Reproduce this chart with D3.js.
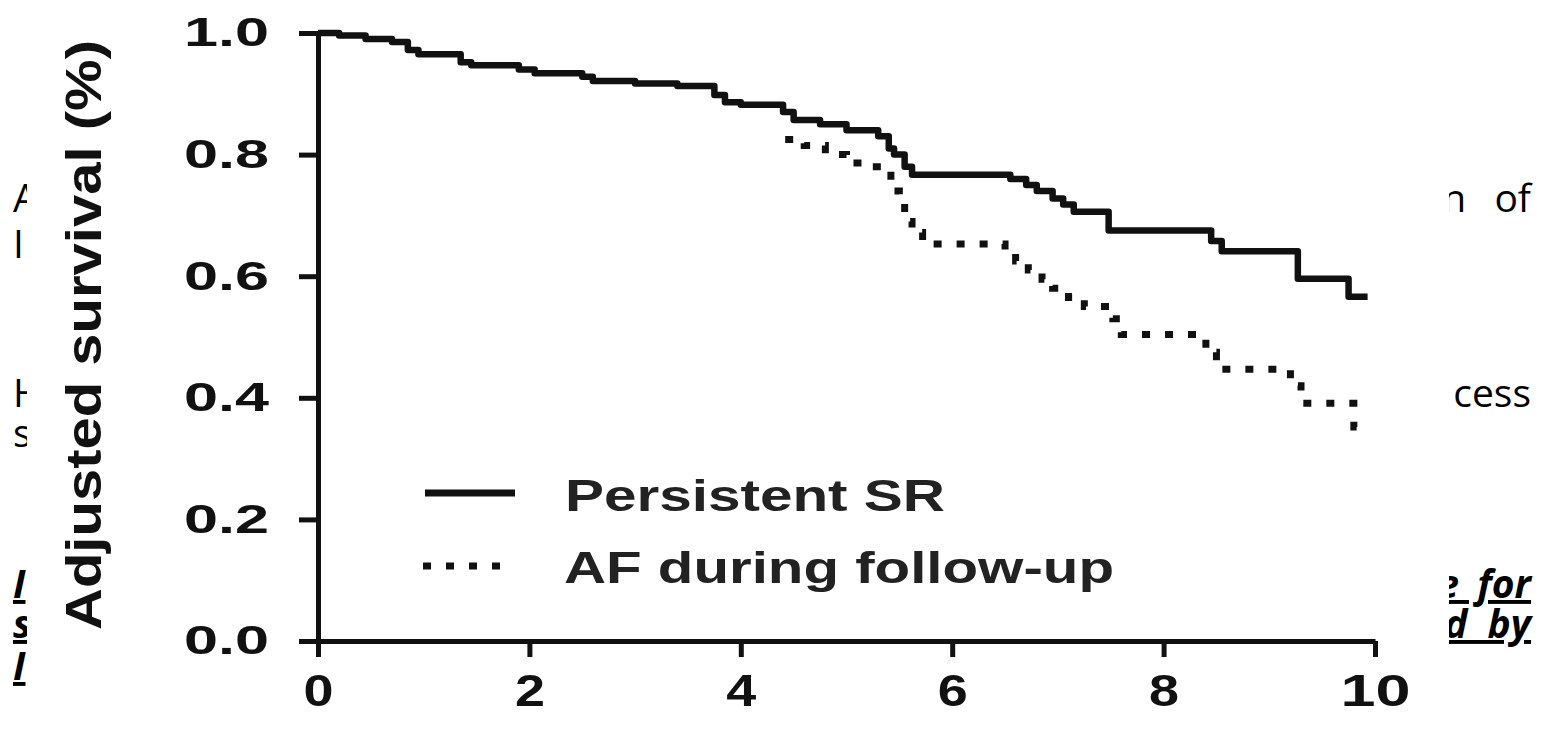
<!DOCTYPE html>
<html><head><meta charset="utf-8">
<script src="https://cdn.jsdelivr.net/npm/d3@7"></script>
<style>html,body{margin:0;padding:0;background:#fff;overflow:hidden}</style>
</head><body><svg id="c" width="1544" height="740"></svg>
<script>
// ---- data ----
const xTicks = [0, 2, 4, 6, 8, 10];
const yTicks = [0, 0.2, 0.4, 0.6, 0.8, 1.0];
const seriesNames = ["Persistent SR", "AF during follow-up"];
const yTitle = "Adjusted survival (%)";

const srTime = [0, 0.2, 0.45, 0.7, 0.85, 0.95, 1.35, 1.45, 1.9, 2.05, 2.5, 2.6, 3.0, 3.4, 3.75, 3.85, 4.0, 4.4, 4.5, 4.75, 5.0, 5.3, 5.4, 5.45, 5.55, 5.62, 6.55, 6.7, 6.8, 6.95, 7.05, 7.15, 7.48, 8.45, 8.55, 9.27, 9.75, 9.93];
const srSurv = [1.0, 0.996, 0.99, 0.985, 0.972, 0.965, 0.952, 0.947, 0.94, 0.934, 0.928, 0.921, 0.917, 0.913, 0.898, 0.886, 0.882, 0.87, 0.857, 0.85, 0.84, 0.83, 0.81, 0.8, 0.78, 0.767, 0.76, 0.75, 0.74, 0.728, 0.718, 0.706, 0.675, 0.658, 0.641, 0.596, 0.566, 0.566];

const afTime = [4.42, 4.6, 4.8, 5.0, 5.15, 5.35, 5.42, 5.5, 5.55, 5.62, 5.72, 6.5, 6.6, 6.72, 6.85, 6.95, 7.1, 7.25, 7.52, 7.6, 8.4, 8.5, 9.2, 9.3, 9.8, 9.9];
const afSurv = [0.825, 0.815, 0.8, 0.786, 0.78, 0.772, 0.74, 0.72, 0.69, 0.672, 0.653, 0.64, 0.625, 0.61, 0.595, 0.58, 0.565, 0.55, 0.53, 0.504, 0.475, 0.447, 0.42, 0.391, 0.352, 0.352];

// slide text partially visible behind the pasted chart
const slideLeft  = ["A", "I", "H", "s", "I", "s", "I"];
const slideRight = ["n of", "", "cess", "", "e for", "d by", ""];
const slideEmph  = [false, false, false, false, true, true, true];

// ---- drawing ----
const svg = d3.select("#c");
const W = 1544, H = 740;
svg.append("rect").attr("width", W).attr("height", H).attr("fill", "#fff");

const defs = svg.append("defs");
defs.append("clipPath").attr("id", "clipL").append("rect").attr("x", 0).attr("y", 0).attr("width", 27).attr("height", H);
defs.append("clipPath").attr("id", "clipR").append("rect").attr("x", 1449).attr("y", 0).attr("width", W - 1449).attr("height", H);

const lineY = [212, 258, 407, 447, 598, 638, 680];
const wordSp = [18, 0, 0, 0, 8, 10, 0];
const slideFont = "'Open Sans', 'DejaVu Sans', sans-serif";
const gL = svg.append("g").attr("clip-path", "url(#clipL)");
const gR = svg.append("g").attr("clip-path", "url(#clipR)");
function slideText(g, t, i, xPos, anchor) {
  g.append("text").attr("x", xPos).attr("y", lineY[i]).attr("text-anchor", anchor)
    .attr("font-family", slideFont).attr("font-size", 39)
    .attr("font-weight", slideEmph[i] ? 700 : 400)
    .attr("font-style", slideEmph[i] ? "italic" : "normal")
    .attr("text-decoration", slideEmph[i] ? "underline" : "none")
    .attr("word-spacing", wordSp[i])
    .attr("fill", "#000").text(t);
}
slideLeft.forEach((t, i) => slideText(gL, t, i, 13, "start"));
slideRight.forEach((t, i) => { if (t) slideText(gR, t, i, 1531, "end"); });

const x = d3.scaleLinear().domain([0, 10]).range([318, 1375]);
const y = d3.scaleLinear().domain([0, 1]).range([641, 33]);
const font = "'Liberation Sans', Arial, Helvetica, sans-serif";

// axes
const yAxis = d3.axisLeft(y).tickValues(yTicks).tickFormat(d3.format(".1f"))
  .tickSize(19).tickSizeOuter(0).tickPadding(30);
const gy = svg.append("g").attr("transform", `translate(${x(0)},0)`).call(yAxis);
const xAxis = d3.axisBottom(x).tickValues(xTicks).tickFormat(d3.format("d"))
  .tickSize(16).tickSizeOuter(0).tickPadding(17);
const gx = svg.append("g").attr("transform", `translate(0,${y(0)})`).call(xAxis);

[gx, gy].forEach(g => {
  g.selectAll("path.domain").attr("stroke", "#111").attr("stroke-width", 5);
  g.selectAll(".tick line").attr("stroke", "#111").attr("stroke-width", 5);
});
gy.selectAll(".tick text").attr("font-family", font).attr("font-weight", 700)
  .attr("font-size", 40).attr("fill", "#111")
  .attr("textLength", 85).attr("lengthAdjust", "spacingAndGlyphs");
gx.selectAll(".tick text").attr("font-family", font).attr("font-weight", 700)
  .attr("font-size", 45).attr("fill", "#111")
  .each(function(d) {
    const n = String(d).length;
    d3.select(this).attr("textLength", n === 1 ? 30 : 70).attr("lengthAdjust", "spacingAndGlyphs");
  });

// y title
svg.append("text")
  .attr("transform", `translate(101,335) rotate(-90)`)
  .attr("text-anchor", "middle")
  .attr("font-family", font).attr("font-weight", 700).attr("font-size", 50)
  .attr("fill", "#111")
  .attr("textLength", 590).attr("lengthAdjust", "spacingAndGlyphs")
  .text(yTitle);

// curves
const line = d3.line().x(d => x(d.t)).y(d => y(d.s)).curve(d3.curveStepAfter);
const sr = srTime.map((t, i) => ({ t, s: srSurv[i] }));
const af = afTime.map((t, i) => ({ t, s: afSurv[i] }));

svg.append("path").datum(af).attr("d", line)
  .attr("fill", "none").attr("stroke", "#111").attr("stroke-width", 7)
  .attr("stroke-dasharray", "8,15");
svg.append("path").datum(sr).attr("d", line)
  .attr("fill", "none").attr("stroke", "#111").attr("stroke-width", 6.5)
  .attr("stroke-linejoin", "round");

// legend
const lg = svg.append("g");
lg.append("line").attr("x1", 425).attr("x2", 515).attr("y1", 493).attr("y2", 493)
  .attr("stroke", "#111").attr("stroke-width", 7);
lg.append("line").attr("x1", 423).attr("x2", 515).attr("y1", 566).attr("y2", 566)
  .attr("stroke", "#111").attr("stroke-width", 7).attr("stroke-dasharray", "8,15");
lg.append("text").attr("x", 565).attr("y", 511)
  .attr("font-family", font).attr("font-weight", 700).attr("font-size", 44).attr("fill", "#222")
  .attr("textLength", 380).attr("lengthAdjust", "spacingAndGlyphs").text(seriesNames[0]);
lg.append("text").attr("x", 564).attr("y", 583)
  .attr("font-family", font).attr("font-weight", 700).attr("font-size", 44).attr("fill", "#222")
  .attr("textLength", 550).attr("lengthAdjust", "spacingAndGlyphs").text(seriesNames[1]);
</script>
</body></html>
